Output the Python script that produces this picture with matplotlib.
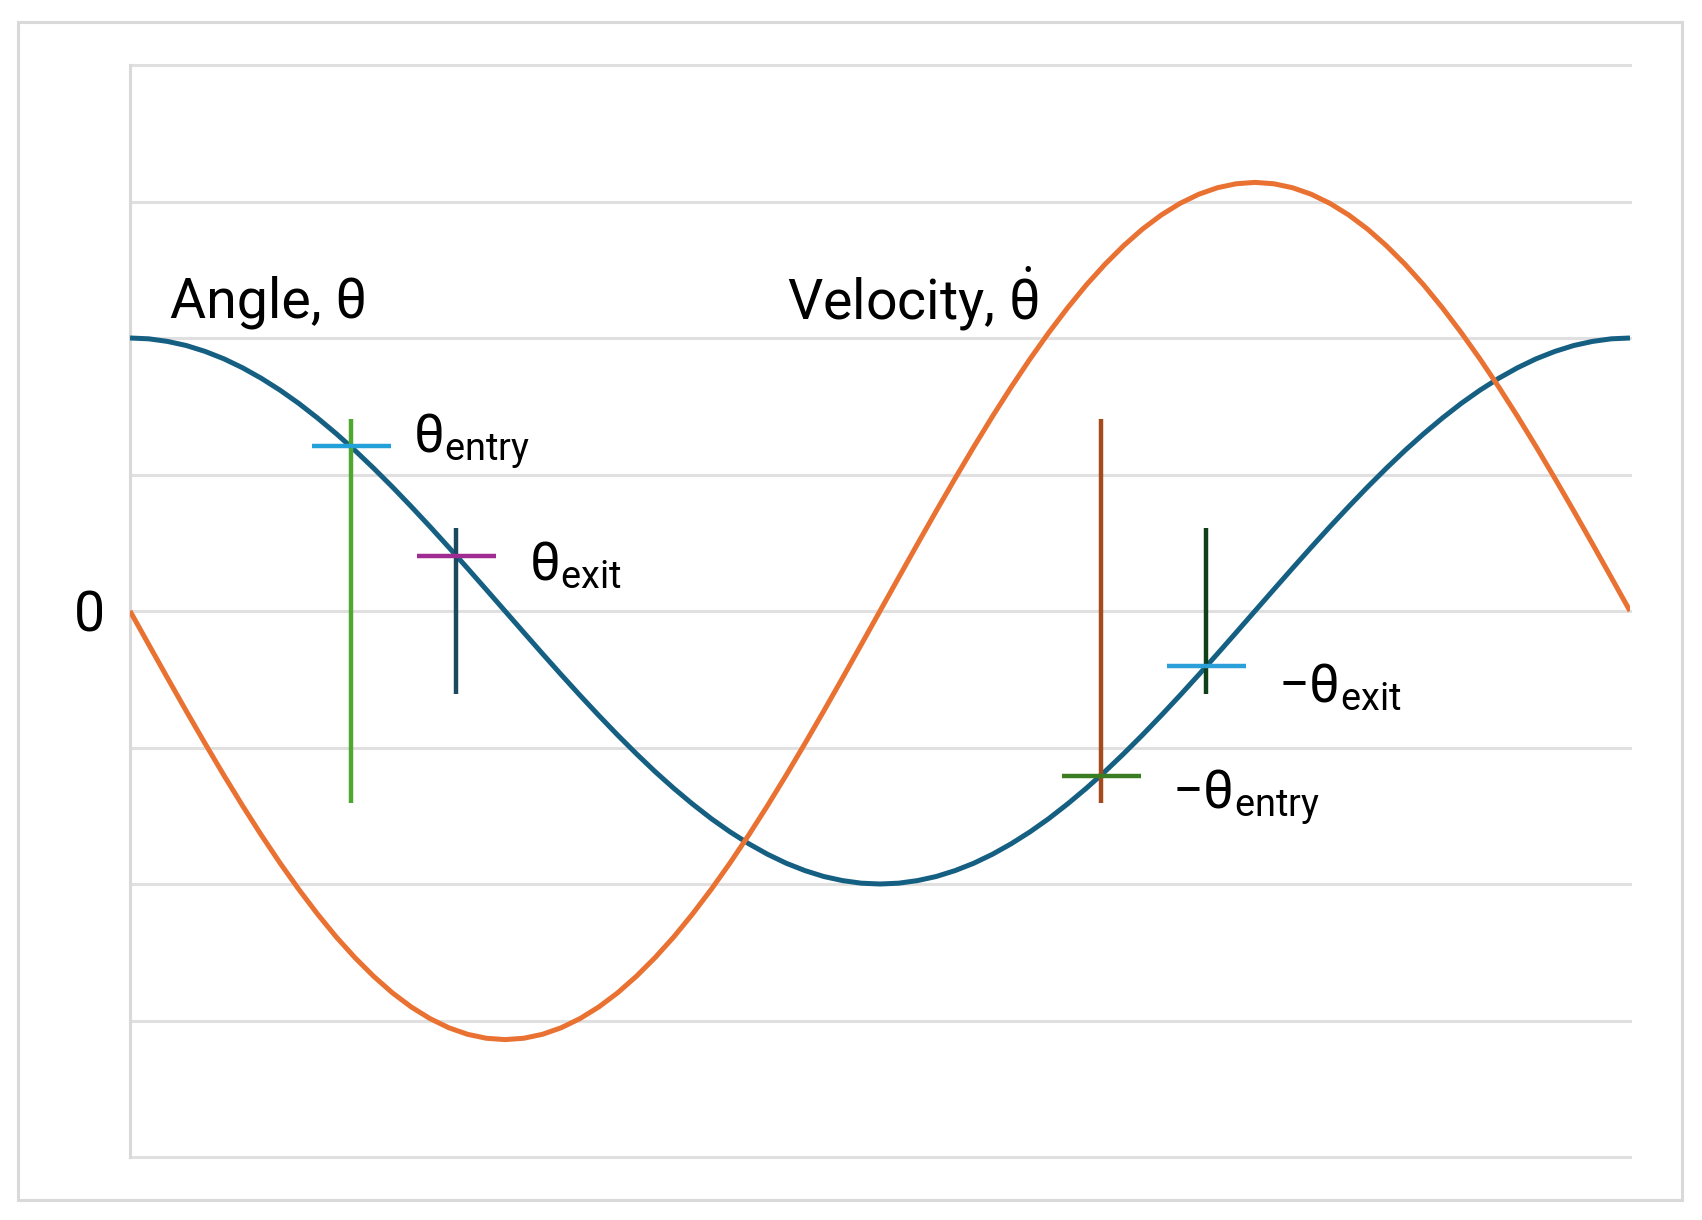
import matplotlib.pyplot as plt
import numpy as np
from matplotlib.patches import Rectangle

plt.rcParams["font.family"] = ["Roboto", "DejaVu Sans"]
plt.rcParams["mathtext.default"] = "regular"

# one full swing, sampled every 0.05
time = np.linspace(0, 4, 81)
angle = [
    2.000, 1.994, 1.975, 1.945, 1.902, 1.848, 1.782, 1.705, 1.618, 1.521, 1.414,
    1.299, 1.176, 1.045, 0.908, 0.765, 0.618, 0.467, 0.313, 0.157, 0.000,
    -0.157, -0.313, -0.467, -0.618, -0.765, -0.908, -1.045, -1.176, -1.299, -1.414,
    -1.521, -1.618, -1.705, -1.782, -1.848, -1.902, -1.945, -1.975, -1.994, -2.000,
    -1.994, -1.975, -1.945, -1.902, -1.848, -1.782, -1.705, -1.618, -1.521, -1.414,
    -1.299, -1.176, -1.045, -0.908, -0.765, -0.618, -0.467, -0.313, -0.157, 0.000,
    0.157, 0.313, 0.467, 0.618, 0.765, 0.908, 1.045, 1.176, 1.299, 1.414,
    1.521, 1.618, 1.705, 1.782, 1.848, 1.902, 1.945, 1.975, 1.994, 2.000,
]
velocity = [
    0.000, -0.246, -0.491, -0.733, -0.970, -1.202, -1.426, -1.641, -1.846, -2.039, -2.220,
    -2.388, -2.540, -2.677, -2.798, -2.901, -2.986, -3.053, -3.101, -3.130, -3.140,
    -3.130, -3.101, -3.053, -2.986, -2.901, -2.798, -2.677, -2.540, -2.388, -2.220,
    -2.039, -1.846, -1.641, -1.426, -1.202, -0.970, -0.733, -0.491, -0.246, 0.000,
    0.246, 0.491, 0.733, 0.970, 1.202, 1.426, 1.641, 1.846, 2.039, 2.220,
    2.388, 2.540, 2.677, 2.798, 2.901, 2.986, 3.053, 3.101, 3.130, 3.140,
    3.130, 3.101, 3.053, 2.986, 2.901, 2.798, 2.677, 2.540, 2.388, 2.220,
    2.039, 1.846, 1.641, 1.426, 1.202, 0.970, 0.733, 0.491, 0.246, 0.000,
]

# crossings marked on the angle curve
cross_x = [0.59, 0.87, 2.59, 2.87]
cross_y = [1.21, 0.40, -1.21, -0.40]
bar_half = [1.41, 0.61, 1.41, 0.61]
cross_labels = [
    r"$\mathregular{θ_{entry}}$",
    r"$\mathregular{θ_{exit}}$",
    r"$\mathregular{−θ_{entry}}$",
    r"$\mathregular{−θ_{exit}}$",
]

ytick_vals = np.arange(-4, 5)
ytick_labels = ["", "", "", "", "0", "", "", "", ""]

vbar_colors = ["#4ea72e", "#1b4a60", "#a34b1c", "#10401a"]
hbar_colors = ["#22a0d8", "#a02b93", "#3b7d23", "#2a9fd8"]
label_pos = [(0.755, 1.165), (1.065, 0.227), (2.78, -1.443), (3.06, -0.667)]

fig = plt.figure(figsize=(17.02, 12.2), dpi=100)
fig.patches.append(
    Rectangle(
        (18 / 1702, 20 / 1220),
        1664 / 1702,
        1178 / 1220,
        transform=fig.transFigure,
        fill=False,
        edgecolor="#d9d9d9",
        linewidth=2.2,
    )
)
ax = fig.add_axes([130 / 1702, 63 / 1220, 1500 / 1702, 1092 / 1220])

ax.plot(time, angle, color="#156082", linewidth=3.6,
        solid_capstyle="butt", solid_joinstyle="round", zorder=3)
ax.plot(time, velocity, color="#e97132", linewidth=3.6,
        solid_capstyle="butt", solid_joinstyle="round", zorder=3)

for i in range(len(cross_x)):
    ax.plot(
        [cross_x[i], cross_x[i]],
        [-bar_half[i], bar_half[i]],
        color=vbar_colors[i],
        linewidth=3.2,
        solid_capstyle="butt",
        zorder=4,
    )
    ax.plot(
        [cross_x[i] - 0.105, cross_x[i] + 0.105],
        [cross_y[i], cross_y[i]],
        color=hbar_colors[i],
        linewidth=3.2,
        solid_capstyle="butt",
        zorder=4,
    )
    ax.text(
        label_pos[i][0], label_pos[i][1], cross_labels[i],
        fontsize=39, va="baseline", ha="left", color="black",
    )

ax.text(0.107, 2.147, r"Angle, θ", fontsize=40, va="baseline", ha="left")
ax.text(1.752, 2.132, r"Velocity, $\mathregular{\dot{θ}}$", fontsize=40, va="baseline", ha="left")

ax.set_xlim(0, 4)
ax.set_ylim(-4, 4)
ax.set_xticks([])
ax.set_yticks(ytick_vals)
ax.set_yticklabels(ytick_labels, fontsize=40)
ax.tick_params(axis="y", length=0, pad=18)
ax.grid(axis="y", color="#e0e0e0", linewidth=2.2)
for gl in ax.yaxis.get_gridlines():
    gl.set_clip_on(False)
for side in ["top", "right", "bottom"]:
    ax.spines[side].set_visible(False)
ax.spines["left"].set_color("#d9d9d9")
ax.spines["left"].set_linewidth(2.2)

fig.savefig("out.png", dpi=100)
